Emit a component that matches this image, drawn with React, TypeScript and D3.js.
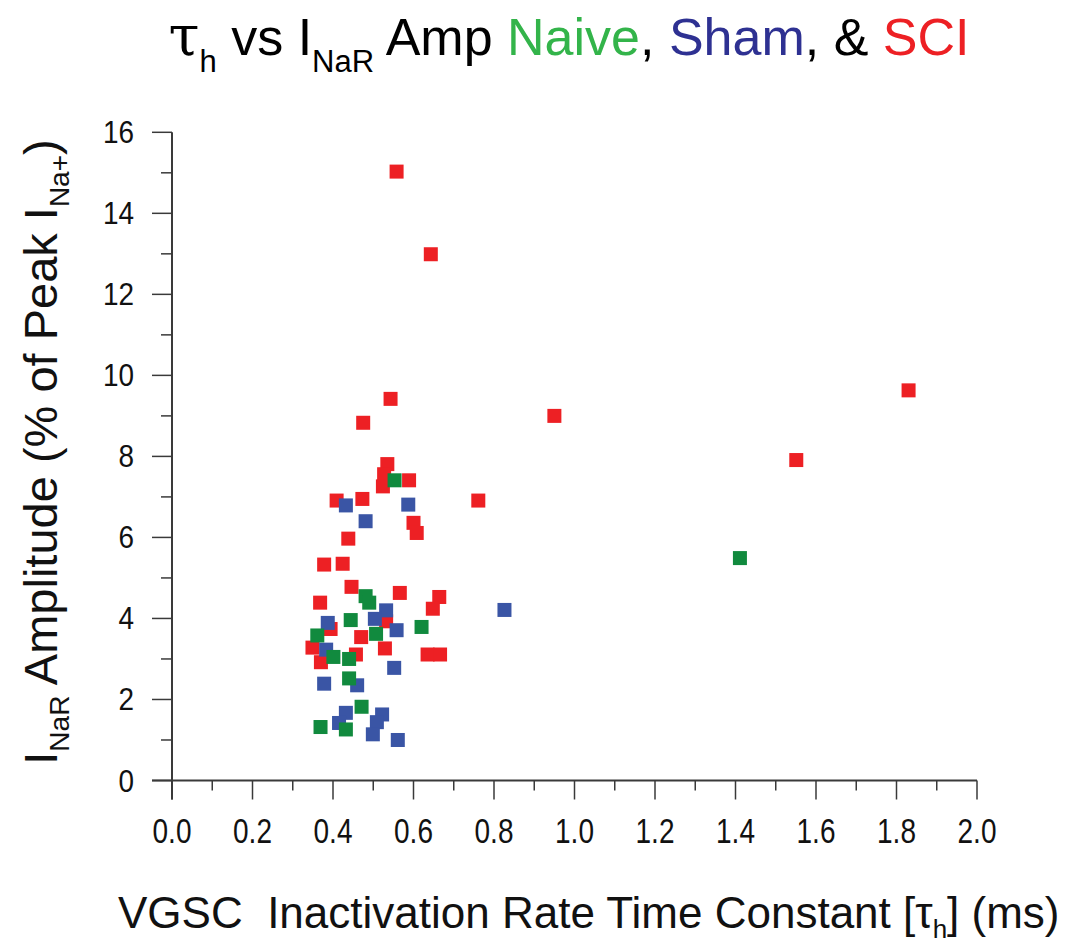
import React from "react";
import * as d3 from "d3";

const sciX = [0.558, 0.643, 0.543, 0.475, 0.95, 1.83, 1.551, 0.535, 0.527, 0.524, 0.589, 0.409, 0.473, 0.761, 0.6, 0.608, 0.438, 0.378, 0.424, 0.446, 0.566, 0.664, 0.648, 0.368, 0.394, 0.532, 0.47, 0.349, 0.37, 0.457, 0.529, 0.635, 0.666];
const sciY = [15.03, 12.99, 9.42, 8.83, 9.0, 9.63, 7.91, 7.81, 7.56, 7.26, 7.41, 6.91, 6.95, 6.91, 6.36, 6.11, 5.97, 5.33, 5.35, 4.78, 4.63, 4.53, 4.24, 4.39, 3.74, 3.93, 3.54, 3.28, 2.92, 3.11, 3.26, 3.11, 3.11];

const shamX = [0.387, 0.532, 0.504, 0.558, 0.383, 0.552, 0.378, 0.46, 0.432, 0.415, 0.522, 0.509, 0.499, 0.561, 0.432, 0.587, 0.481, 0.826];
const shamY = [3.89, 4.2, 3.99, 3.71, 3.23, 2.78, 2.39, 2.35, 1.67, 1.42, 1.63, 1.44, 1.14, 1.0, 6.79, 6.81, 6.4, 4.21];

const naiveX = [0.481, 0.49, 0.444, 0.62, 0.507, 0.361, 0.401, 0.44, 0.44, 0.471, 0.369, 0.432, 0.553, 1.411];
const naiveY = [4.55, 4.39, 3.96, 3.79, 3.62, 3.58, 3.05, 3.0, 2.52, 1.82, 1.32, 1.26, 7.41, 5.49];

const xTicks = [0, 0.2, 0.4, 0.6, 0.8, 1.0, 1.2, 1.4, 1.6, 1.8, 2.0];
const yTicks = [0, 2, 4, 6, 8, 10, 12, 14, 16];

const RED = "#ed2024";
const BLUE = "#3a55a5";
const GREEN = "#118a3e";
const TITLE_GREEN = "#33b44a";
const TITLE_BLUE = "#2e3192";
const FONT = "'Liberation Sans', Arial, sans-serif";
const SERIF = "'DejaVu Serif', 'Liberation Serif', serif";

export default function App() {
  const x = d3.scaleLinear().domain([0, 2]).range([172, 977]);
  const y = d3.scaleLinear().domain([0, 16]).range([780.5, 132.3]);
  const minorX = d3.range(0, 2.0001, 0.1).filter((v) => Math.abs(Math.round(v * 5) - v * 5) > 0.01);
  const minorY = d3.range(1, 16, 2);
  const S = 14;
  const axisColor = "#3a3a3a";

  const series = [
    { xs: sciX, ys: sciY, c: RED },
    { xs: shamX, ys: shamY, c: BLUE },
    { xs: naiveX, ys: naiveY, c: GREEN },
  ];

  return (
    <svg width={1081} height={945} style={{ position: "absolute", left: 0, top: 0, background: "#fff" }} fontFamily={FONT}>
      {/* Title */}
      <text x={569} y={55} fontSize={52} textAnchor="middle" fill="#000">
        <tspan fontFamily={SERIF} fontSize={56}>τ</tspan>
        <tspan fontSize={31} dy={17}>h</tspan>
        <tspan dy={-17}> vs I</tspan>
        <tspan fontSize={31} dy={17}>NaR</tspan>
        <tspan dy={-17}> Amp </tspan>
        <tspan fill={TITLE_GREEN}>Naive</tspan>
        <tspan>, </tspan>
        <tspan fill={TITLE_BLUE}>Sham</tspan>
        <tspan>, &amp; </tspan>
        <tspan fill={RED}>SCI</tspan>
      </text>

      {/* Axes lines */}
      <line x1={152} x2={977} y1={y(0)} y2={y(0)} stroke={axisColor} strokeWidth={2} />
      <line x1={x(0)} x2={x(0)} y1={y(16)} y2={y(0) + 19} stroke={axisColor} strokeWidth={2} />

      {/* X ticks */}
      {xTicks.map((t) => (
        <g key={"xt" + t}>
          <line x1={x(t)} x2={x(t)} y1={y(0)} y2={y(0) + 19} stroke={axisColor} strokeWidth={1.5} />
          <g transform={`translate(${x(t)},843) scale(0.8,1)`}>
            <text textAnchor="middle" fontSize={35} fill="#111">{t.toFixed(1)}</text>
          </g>
        </g>
      ))}
      {minorX.map((t) => (
        <line key={"xm" + t} x1={x(t)} x2={x(t)} y1={y(0)} y2={y(0) + 10} stroke={axisColor} strokeWidth={1.5} />
      ))}

      {/* Y ticks */}
      {yTicks.map((t) => (
        <g key={"yt" + t}>
          <line x1={152} x2={x(0)} y1={y(t)} y2={y(t)} stroke={axisColor} strokeWidth={1.5} />
          <g transform={`translate(134,${y(t) + 11}) scale(0.9,1)`}>
            <text textAnchor="end" fontSize={31} fill="#111">{t}</text>
          </g>
        </g>
      ))}
      {minorY.map((t) => (
        <line key={"ym" + t} x1={161} x2={x(0)} y1={y(t)} y2={y(t)} stroke={axisColor} strokeWidth={1.5} />
      ))}

      {/* Y title */}
      <g transform="translate(57,452) rotate(-90)">
        <text textAnchor="middle" fontSize={47} fill="#111">
          <tspan>I</tspan>
          <tspan fontSize={28} dy={12}>NaR</tspan>
          <tspan dy={-12}> Amplitude (% of Peak I</tspan>
          <tspan fontSize={28} dy={12}>Na+</tspan>
          <tspan dy={-12}>)</tspan>
        </text>
      </g>

      {/* X title */}
      <text x={118} y={928} fontSize={44} fill="#111" style={{ whiteSpace: "pre" }}>
        <tspan>{"VGSC\u00A0 Inactivation Rate Time Constant [τ"}</tspan>
        <tspan fontSize={26} dy={10}>h</tspan>
        <tspan dy={-10}>] (ms)</tspan>
      </text>

      {/* Points */}
      {series.map((s, si) => (
        <g key={"s" + si} fill={s.c}>
          {s.xs.map((v, i) => (
            <rect key={i} x={x(v) - S / 2} y={y(s.ys[i]) - S / 2} width={S} height={S} />
          ))}
        </g>
      ))}
    </svg>
  );
}
